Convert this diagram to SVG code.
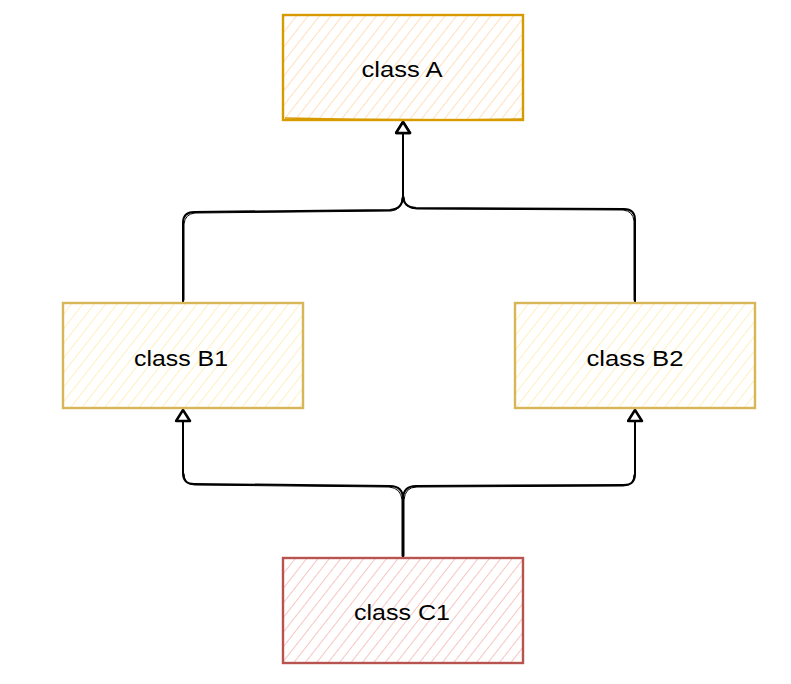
<svg xmlns="http://www.w3.org/2000/svg" width="791" height="684" viewBox="0 0 791 684">
  <style>
    .label { font-family: "Liberation Sans", Arial, sans-serif; font-size: 22px; fill: #000; text-anchor: middle; }
    .edge { fill: none; stroke: #000; stroke-width: 2; stroke-linejoin: round; stroke-linecap: round; }
    .edge2 { fill: none; stroke: #000; stroke-width: 1; stroke-linecap: round; }
    .box { stroke-width: 2.4; }
  </style>
  <defs>
    <pattern id="hatchA" width="9" height="9" patternUnits="userSpaceOnUse" patternTransform="rotate(38)">
      <line x1="0" y1="0" x2="0" y2="9" stroke="#ffe0bf" stroke-width="2"/>
    </pattern>
    <pattern id="hatchB" width="9" height="9" patternUnits="userSpaceOnUse" patternTransform="rotate(38)">
      <line x1="0" y1="0" x2="0" y2="9" stroke="#fff0c0" stroke-width="2"/>
    </pattern>
    <pattern id="hatchC" width="9" height="9" patternUnits="userSpaceOnUse" patternTransform="rotate(38)">
      <line x1="0" y1="0" x2="0" y2="9" stroke="#f6c6c4" stroke-width="2"/>
    </pattern>
    <marker id="arrow" viewBox="0 0 14 17" refX="12.5" refY="8.5" markerWidth="14" markerHeight="17" markerUnits="userSpaceOnUse" orient="auto">
      <path d="M1.5,1.5 L12.5,8.5 L1.5,15.5 Z" fill="#fff" stroke="#000" stroke-width="2.5" stroke-linejoin="round"/>
    </marker>
  </defs>
  <rect width="791" height="684" fill="#fff"/>

  <g id="edges">
    <path class="edge" d="M183,302 L183,223 Q183,212 194,212 L390,210 Q403,209 403,196 L403,122" marker-end="url(#arrow)"/>
    <path class="edge" d="M635,302 L635,220 Q635,209 624,209 L416,208 Q403,207 403,196 L403,122" marker-end="url(#arrow)"/>
    <path class="edge" d="M403,558 L403,499 Q403,486 390,486 L194,484 Q183,484 183,473 L183,410" marker-end="url(#arrow)"/>
    <path class="edge" d="M403,558 L403,499 Q403,486 416,486 L624,485 Q635,485 635,474 L635,410" marker-end="url(#arrow)"/>
    <path class="edge2" d="M184,300 L184,224 Q185,214 195,213 L391,211 Q402,210 402,198"/>
    <path class="edge2" d="M634,300 L634,221 Q633,211 623,210 L417,209 Q404,209 404,197"/>
    <path class="edge2" d="M402,556 L402,500 Q401,488 389,487 L195,485 Q184,485 184,474"/>
    <path class="edge2" d="M404,556 L404,500 Q405,487 417,487 L623,486 Q634,486 634,475"/>
  </g>

  <g id="classA">
    <rect x="283" y="15" width="240" height="105" fill="url(#hatchA)" stroke="#d79b00" class="box"/>
    <path d="M285,118 Q400,121 522,119" fill="none" stroke="#d79b00" stroke-width="1.5"/>
    <text class="label" x="402" y="77" textLength="81" lengthAdjust="spacingAndGlyphs">class A</text>
  </g>

  <g id="classB1">
    <rect x="63" y="303" width="240" height="105" fill="url(#hatchB)" stroke="#d6b656" class="box"/>
    <text class="label" x="181" y="366" textLength="94" lengthAdjust="spacingAndGlyphs">class B1</text>
  </g>

  <g id="classB2">
    <rect x="515" y="303" width="240" height="105" fill="url(#hatchB)" stroke="#d6b656" class="box"/>
    <text class="label" x="635" y="366" textLength="97" lengthAdjust="spacingAndGlyphs">class B2</text>
  </g>

  <g id="classC1">
    <rect x="283" y="558" width="240" height="105" fill="url(#hatchC)" stroke="#b85450" class="box"/>
    <text class="label" x="402" y="620" textLength="96" lengthAdjust="spacingAndGlyphs">class C1</text>
  </g>
</svg>
